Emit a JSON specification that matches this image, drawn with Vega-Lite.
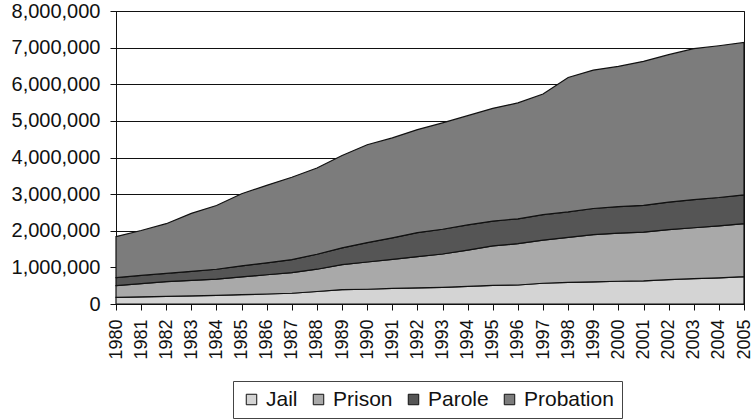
{
  "$schema": "https://vega.github.io/schema/vega-lite/v6.json",
  "width": 628,
  "height": 293,
  "autosize": {"type": "none"},
  "padding": {"left": 116, "top": 11, "right": 8, "bottom": 115},
  "background": "white",
  "config": {
    "font": "Liberation Sans",
    "view": {"stroke": "#111", "strokeWidth": 1}
  },
  "datasets": {
    "wide": [
      {"year": 1980, "Jail": 182288, "Prison": 319598, "Parole": 220438, "Probation": 1118097},
      {"year": 1981, "Jail": 195085, "Prison": 360029, "Parole": 225539, "Probation": 1225934},
      {"year": 1982, "Jail": 207853, "Prison": 402914, "Parole": 224604, "Probation": 1357264},
      {"year": 1983, "Jail": 221815, "Prison": 423898, "Parole": 246440, "Probation": 1582947},
      {"year": 1984, "Jail": 233018, "Prison": 448264, "Parole": 266992, "Probation": 1740948},
      {"year": 1985, "Jail": 254986, "Prison": 487593, "Parole": 300203, "Probation": 1968712},
      {"year": 1986, "Jail": 272735, "Prison": 526436, "Parole": 325638, "Probation": 2114621},
      {"year": 1987, "Jail": 294092, "Prison": 562814, "Parole": 355505, "Probation": 2247158},
      {"year": 1988, "Jail": 341893, "Prison": 607766, "Parole": 407977, "Probation": 2356483},
      {"year": 1989, "Jail": 393303, "Prison": 683367, "Parole": 456803, "Probation": 2522125},
      {"year": 1990, "Jail": 403019, "Prison": 743382, "Parole": 531407, "Probation": 2670234},
      {"year": 1991, "Jail": 424129, "Prison": 792535, "Parole": 590442, "Probation": 2728472},
      {"year": 1992, "Jail": 441781, "Prison": 850566, "Parole": 658601, "Probation": 2811611},
      {"year": 1993, "Jail": 455500, "Prison": 909381, "Parole": 676100, "Probation": 2903061},
      {"year": 1994, "Jail": 479800, "Prison": 990147, "Parole": 690371, "Probation": 2981022},
      {"year": 1995, "Jail": 507044, "Prison": 1078542, "Parole": 679421, "Probation": 3077861},
      {"year": 1996, "Jail": 518492, "Prison": 1127528, "Parole": 679733, "Probation": 3164996},
      {"year": 1997, "Jail": 567079, "Prison": 1176922, "Parole": 694787, "Probation": 3296513},
      {"year": 1998, "Jail": 592462, "Prison": 1224469, "Parole": 696385, "Probation": 3670441},
      {"year": 1999, "Jail": 605943, "Prison": 1287172, "Parole": 714457, "Probation": 3779922},
      {"year": 2000, "Jail": 621149, "Prison": 1316333, "Parole": 723898, "Probation": 3826209},
      {"year": 2001, "Jail": 631240, "Prison": 1330007, "Parole": 732333, "Probation": 3931731},
      {"year": 2002, "Jail": 665475, "Prison": 1367547, "Parole": 750934, "Probation": 4024067},
      {"year": 2003, "Jail": 691301, "Prison": 1390279, "Parole": 769925, "Probation": 4120012},
      {"year": 2004, "Jail": 713990, "Prison": 1421345, "Parole": 771852, "Probation": 4143792},
      {"year": 2005, "Jail": 747529, "Prison": 1448344, "Parole": 784208, "Probation": 4162536}
    ]
  },
  "data": {"name": "wide"},
  "transform": [
    {"fold": ["Jail", "Prison", "Parole", "Probation"], "as": ["type", "count"]},
    {"calculate": "indexof(['Jail','Prison','Parole','Probation'], datum.type)", "as": "stackOrder"}
  ],
  "mark": {"type": "area", "stroke": "#111", "strokeWidth": 1.2, "opacity": 1, "fillOpacity": 1},
  "encoding": {
    "x": {
      "field": "year",
      "type": "ordinal",
      "scale": {"type": "point", "padding": 0},
      "axis": {
        "title": null,
        "labelAngle": 270,
        "labelAlign": "right",
        "labelBaseline": "middle",
        "labelFontSize": 18,
        "labelColor": "#111",
        "labelPadding": 9,
        "tickSize": 6,
        "tickColor": "#111",
        "domainColor": "#111",
        "labelOverlap": false
      }
    },
    "y": {
      "field": "count",
      "type": "quantitative",
      "stack": "zero",
      "scale": {"domain": [0, 8000000], "nice": false},
      "axis": {
        "title": null,
        "values": [0, 1000000, 2000000, 3000000, 4000000, 5000000, 6000000, 7000000, 8000000],
        "format": ",d",
        "labelFontSize": 20,
        "labelColor": "#111",
        "labelPadding": 10,
        "tickSize": 6,
        "tickColor": "#111",
        "domainColor": "#111",
        "grid": true,
        "gridColor": "#111",
        "gridWidth": 1
      }
    },
    "color": {
      "field": "type",
      "type": "nominal",
      "scale": {
        "domain": ["Jail", "Prison", "Parole", "Probation"],
        "range": ["#d4d4d4", "#a9a9a9", "#555555", "#7c7c7c"]
      },
      "legend": {
        "title": null,
        "orient": "none",
        "legendX": 117,
        "legendY": 370,
        "direction": "horizontal",
        "padding": 8,
        "strokeColor": "#444",
        "fillColor": "white",
        "labelFontSize": 21,
        "labelColor": "#111",
        "labelOffset": 4,
        "columnPadding": 10,
        "gridAlign": "none",
        "symbolType": "square",
        "symbolSize": 110,
        "symbolStrokeColor": "#111",
        "symbolStrokeWidth": 1
      }
    },
    "order": {"field": "stackOrder", "type": "quantitative", "sort": "ascending"}
  }
}
